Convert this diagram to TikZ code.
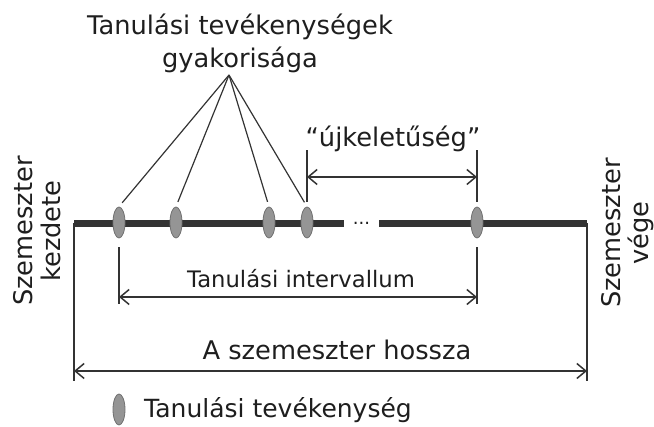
\documentclass[tikz,border=0pt]{standalone}
\usepackage{fontspec}
\setmainfont{DejaVu Sans}
\usetikzlibrary{shapes.geometric,arrows.meta,calc}
\definecolor{ink}{HTML}{1E1E1E}
\definecolor{barc}{HTML}{333333}
\definecolor{dotfill}{HTML}{959595}
\definecolor{dotline}{HTML}{707070}
\tikzset{
  txt/.style={inner sep=0pt, text=ink},
  act/.style={ellipse, draw=dotline, fill=dotfill, line width=0.8pt, minimum width=12pt, minimum height=31pt, inner sep=0pt},
  thinline/.style={draw=barc, line width=1.2pt},
  dim/.style={thinline, {Straight Barb[length=9pt,width=15pt,line width=1.5pt]}-{Straight Barb[length=9pt,width=15pt,line width=1.5pt]}},
  barline/.style={draw=barc, line width=7pt},
}
\begin{document}
\begin{tikzpicture}[x=1pt,y=-1pt]
\useasboundingbox (0,0) rectangle (654,427);
% title
\node[txt, align=center, font=\fontsize{25.7}{33}\selectfont] (title) at (240,43) {Tanulási tevékenységek\\gyakorisága};
\coordinate (apex) at (229,75);
% bar
\coordinate (bl) at (74,223.5);
\coordinate (gl) at (344,223.5);
\coordinate (gr) at (379,223.5);
\coordinate (br) at (587,223.5);
\draw[barline] (bl) -- (gl);
\draw[barline] (gr) -- (br);
\node[txt, font=\fontsize{18}{18}\selectfont, anchor=base] (dots) at (361.5,225) {...};
% activities
\node[act] (e1) at (119,222.5) {};
\node[act] (e2) at (176,222.5) {};
\node[act] (e3) at (269,222.5) {};
\node[act] (e4) at (307,222.5) {};
\node[act] (e5) at (477,222.5) {};
% fan
\foreach \e in {e1,e2,e3,e4}{\draw[thinline, shorten >=5pt] (apex) -- (\e.north);}
% recency
\coordinate (r1t) at (307,150);
\coordinate (r2t) at (477,150);
\draw[thinline, shorten <=5pt] (e4.north) -- (r1t);
\draw[thinline, shorten <=5pt] (e5.north) -- (r2t);
\coordinate (r1) at (307,177);
\coordinate (r2) at (477,177);
\draw[dim] (r1) -- (r2);
\node[txt, font=\fontsize{25.7}{30}\selectfont, anchor=base] (recency) at (393,147) {“újkeletűség”};
% interval
\coordinate (i1b) at (119,304);
\coordinate (i2b) at (477,304);
\draw[thinline, shorten <=9pt] (e1.south) -- (i1b);
\draw[thinline, shorten <=9pt] (e5.south) -- (i2b);
\coordinate (i1) at (119,297);
\coordinate (i2) at (477,297);
\draw[dim] (i1) -- (i2);
\node[txt, font=\fontsize{22.7}{28}\selectfont, anchor=base] (interval) at (301,288) {Tanulási intervallum};
% semester length
\coordinate (s1b) at (74,381);
\coordinate (s2b) at (587,381);
\draw[thinline] (bl) -- (s1b);
\draw[thinline] (br) -- (s2b);
\coordinate (s1) at (74,371);
\coordinate (s2) at (587,371);
\draw[dim] (s1) -- (s2);
\node[txt, font=\fontsize{25.7}{30}\selectfont, anchor=base] (length) at (337,360) {A szemeszter hossza};
% side labels
\node[txt, align=center, rotate=90, font=\fontsize{25.7}{28}\selectfont] (start) at (37,231) {Szemeszter\\kezdete};
\node[txt, align=center, rotate=90, font=\fontsize{25.7}{28}\selectfont] (end) at (628,233) {Szemeszter\\vége};
% legend
\node[act] (leg) at (119,409.5) {};
\node[txt, font=\fontsize{25}{30}\selectfont, anchor=west] (legtxt) at (144,410) {Tanulási tevékenység};
\end{tikzpicture}
\end{document}
